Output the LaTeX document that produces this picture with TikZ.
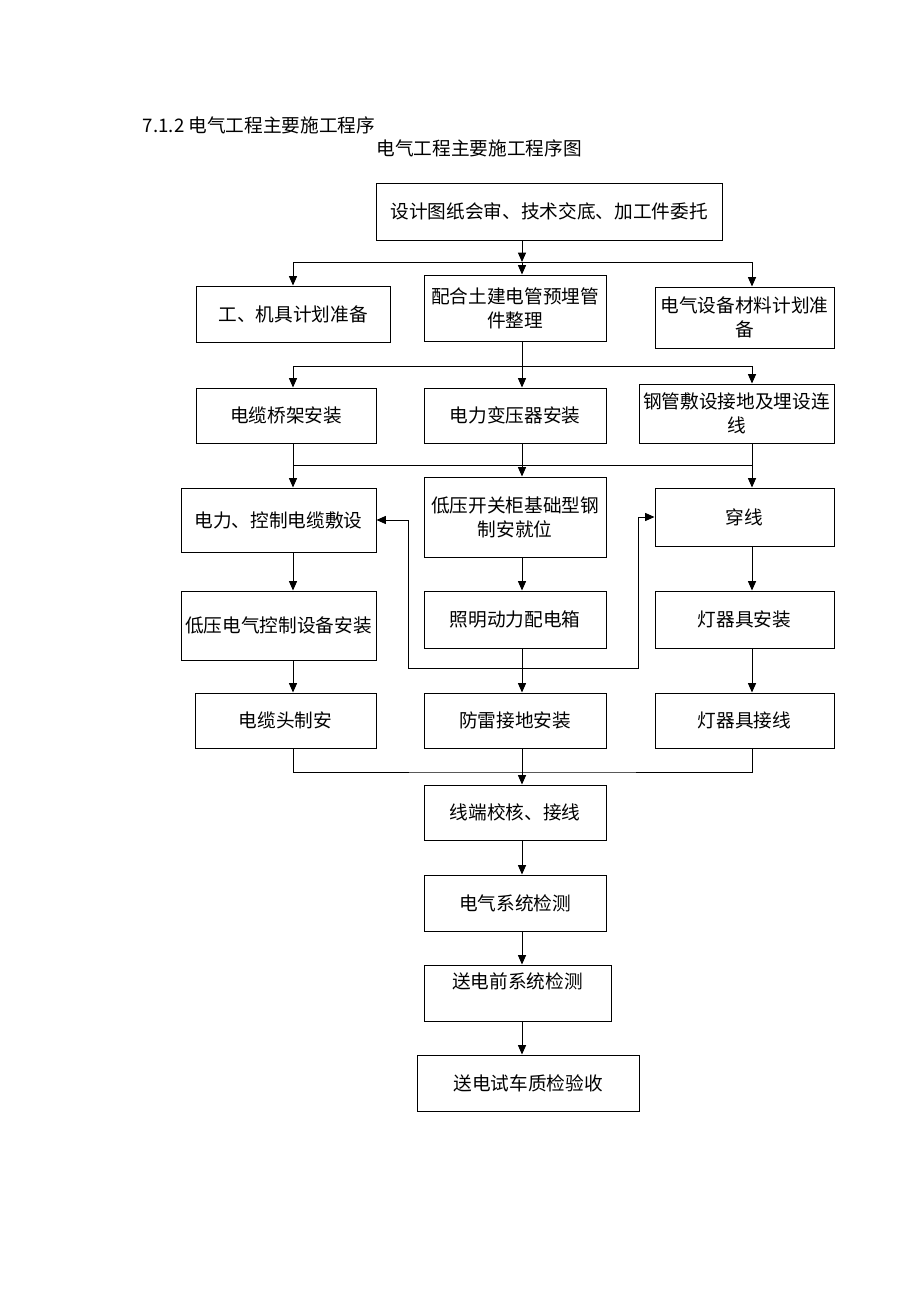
\documentclass[tikz,border=0pt]{standalone}
\usepackage{fontspec}
\setmainfont{Noto Sans CJK SC}
\usetikzlibrary{arrows.meta}

\begin{document}
\begin{tikzpicture}[x=0.75pt, y=-0.75pt, line width=0.75pt, >={Triangle[length=7pt, width=6pt]},
  box/.style 2 args={draw, align=center, inner sep=1pt, minimum width=#1*0.75pt, minimum height=#2*0.75pt, font=\fontsize{14}{18}\selectfont}]
  \useasboundingbox (0,0) rectangle (920,1302);

  \node[anchor=west, font=\fontsize{14}{18}\selectfont]   (head)   at (138,125)   {7.1.2 电气工程主要施工程序};
  \node[font=\fontsize{14}{18}\selectfont]                 (title)  at (479,148)   {电气工程主要施工程序图};

  \node[box={346}{57}]  (design)  at (549,211.5)  {设计图纸会审、技术交底、加工件委托};

  \node[box={194}{56}]  (tools)   at (293,314)    {工、机具计划准备};
  \node[box={182}{66}]  (embed)   at (515,308)    {配合土建电管预埋管\\件整理};
  \node[box={179}{61}]  (plan)    at (744.5,317.5) {电气设备材料计划准\\备};

  \node[box={180}{55}]  (tray)    at (286,415.5)  {电缆桥架安装};
  \node[box={182}{55}]  (trans)   at (515,415.5)  {电力变压器安装};
  \node[box={195}{59}]  (steel)   at (736.5,413.5) {钢管敷设接地及埋设连\\线};

  \node[box={195}{64}]  (cable)   at (278.5,520)  {电力、控制电缆敷设};
  \node[box={182}{80}]  (switch)  at (515,517)    {低压开关柜基础型钢\\制安就位};
  \node[box={179}{58}]  (wire)    at (744.5,517)  {穿线};

  \node[box={195}{69}]  (ctrl)    at (278.5,625.5) {低压电气控制设备安装};
  \node[box={182}{57}]  (distbox) at (515,619.5)  {照明动力配电箱};
  \node[box={179}{57}]  (lamp)    at (744.5,619.5) {灯器具安装};

  \node[box={181}{55}]  (cablehd) at (285.5,720.5) {电缆头制安};
  \node[box={182}{55}]  (ground)  at (515,720.5)  {防雷接地安装};
  \node[box={179}{55}]  (lampw)   at (744.5,720.5) {灯器具接线};

  \node[box={182}{55}]  (term)    at (515,812.5)  {线端校核、接线};
  \node[box={182}{56}]  (systest) at (515,903)    {电气系统检测};
  \node[box={187}{56}]  (pretest) at (517.5,993)  {送电前系统检测\\\mbox{}};
  \node[box={222}{56}]  (accept)  at (528,1083)   {送电试车质检验收};

  \coordinate (cl) at (293,0);
  \coordinate (cm) at (522,0);
  \coordinate (cr) at (752,0);
  \coordinate (split1) at (522,262);
  \coordinate (split2) at (522,366);
  \coordinate (merge1) at (522,465);
  \coordinate (merge2) at (522,772);
  \coordinate (loopl)  at (408,668);
  \coordinate (loopr)  at (638,668);

  \draw[->] (design.south -| cm) -- (split1);
  \draw[->] (split1) -| (tools.north -| cl);
  \draw[->] (split1) -- (embed.north -| cm);
  \draw[->] (split1) -| (plan.north -| cr);

  \draw[->] (embed.south -| cm) -- (trans.north -| cm);
  \draw[->] (split2) -| (tray.north -| cl);
  \draw[->] (split2) -| (steel.north -| cr);

  \draw[->] (tray.south -| cl) -- (cable.north -| cl);
  \draw[->] (trans.south -| cm) -- (switch.north -| cm);
  \draw[->] (steel.south -| cr) -- (wire.north -| cr);
  \draw (merge1 -| cl) -- (merge1 -| cr);

  \draw[->] (cable.south -| cl) -- (ctrl.north -| cl);
  \draw[->] (switch.south -| cm) -- (distbox.north -| cm);
  \draw[->] (wire.south -| cr) -- (lamp.north -| cr);

  \draw[->] (ctrl.south -| cl) -- (cablehd.north -| cl);
  \draw[->] (distbox.south -| cm) -- (ground.north -| cm);
  \draw[->] (lamp.south -| cr) -- (lampw.north -| cr);
  \draw[<->] (cable.east) -| (loopl) -- (loopr) |- (wire.west);

  \draw (cablehd.south -| cl) |- (merge2) -| (lampw.south -| cr);
  \draw[->] (ground.south -| cm) -- (term.north -| cm);
  \draw[->] (term.south -| cm) -- (systest.north -| cm);
  \draw[->] (systest.south -| cm) -- (pretest.north -| cm);
  \draw[->] (pretest.south -| cm) -- (accept.north -| cm);
\end{tikzpicture}
\end{document}
